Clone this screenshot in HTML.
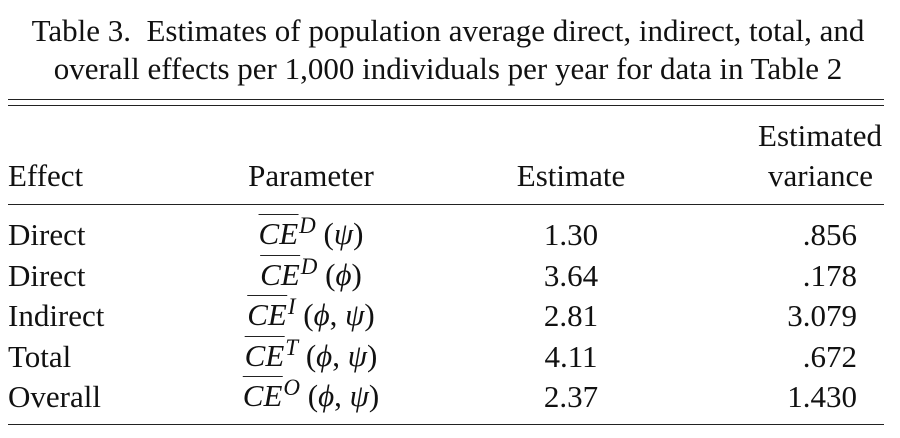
<!DOCTYPE html>
<html><head><meta charset="utf-8"><style>
body{margin:0;width:900px;height:438px;background:#fff;position:relative;overflow:hidden;font-family:"Liberation Serif",serif;color:#111;font-size:31px}
.t{position:absolute;white-space:nowrap;line-height:1}
.c{transform:translateX(-50%)}
.r{transform:translateX(-100%)}
.rule{position:absolute;left:8px;width:876px;height:1.3px;background:#222}
.ce{font-style:italic;border-top:1.5px solid #222;padding-top:1px}
sup{font-style:italic;font-size:23px;position:relative;top:-4px;vertical-align:top;margin-left:1px}
i{font-style:italic}
</style></head><body>
<div class="t c" style="left:448px;top:15px">Table 3.&nbsp; Estimates of population average direct, indirect, total, and</div>
<div class="t c" style="left:448px;top:53px">overall effects per 1,000 individuals per year for data in Table 2</div>
<div class="rule" style="top:99px"></div>
<div class="rule" style="top:105px"></div>
<div class="t" style="left:8px;top:160px">Effect</div>
<div class="t c" style="left:311px;top:160px">Parameter</div>
<div class="t c" style="left:571px;top:160px">Estimate</div>
<div class="t r" style="left:882px;top:120px">Estimated</div>
<div class="t r" style="left:873px;top:160px">variance</div>
<div class="rule" style="top:204px"></div>
<div id="rows"></div>
<div class="rule" style="top:424px"></div>
<script>
const effects=["Direct","Direct","Indirect","Total","Overall"];
const sups=["D","D","I","T","O"];
const args=["(<i>ψ</i>)","(<i>ϕ</i>)","(<i>ϕ</i>, <i>ψ</i>)","(<i>ϕ</i>, <i>ψ</i>)","(<i>ϕ</i>, <i>ψ</i>)"];
const estimates=["1.30","3.64","2.81","4.11","2.37"];
const variances=[".856",".178","3.079",".672","1.430"];
const host=document.getElementById('rows');
effects.forEach((e,i)=>{
  const y=219+i*40.6;
  const a=document.createElement('div');a.className='t';a.style.left='8px';a.style.top=y+'px';a.textContent=e;
  
  
  host.appendChild(a);
  const p=document.createElement('div');p.className='t c';p.style.left='311px';p.style.top=(y-1)+'px';
  p.innerHTML='<span class="ce">CE</span><sup>'+sups[i]+'</sup>&nbsp;'+args[i];
  
  
  host.appendChild(p);
  const s=document.createElement('div');s.className='t c';s.style.left='571px';s.style.top=y+'px';s.textContent=estimates[i];
  
  
  host.appendChild(s);
  const v=document.createElement('div');v.className='t r';v.style.left='857px';v.style.top=y+'px';v.textContent=variances[i];
  
  
  host.appendChild(v);
});
</script>
</body></html>
